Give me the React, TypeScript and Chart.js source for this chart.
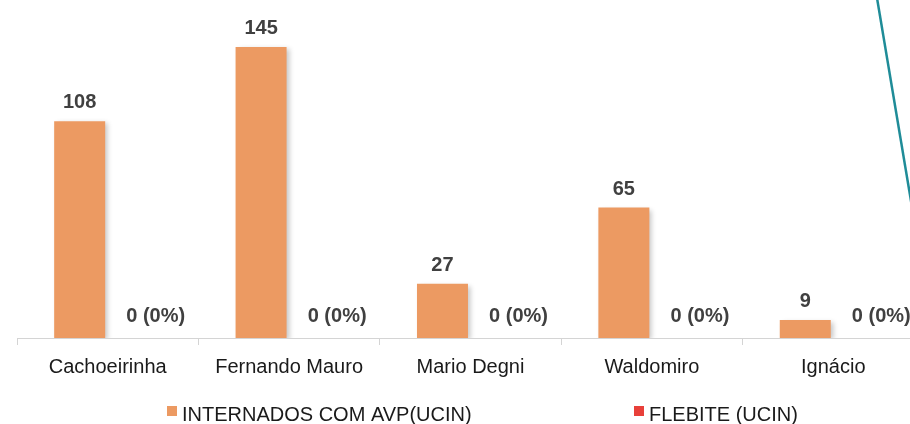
import React, { useEffect, useRef } from "react";
import { Chart, registerables } from "chart.js";

Chart.register(...registerables);

const categories = ["Cachoeirinha", "Fernando Mauro", "Mario Degni", "Waldomiro", "Ignácio"];
const internados = [108, 145, 27, 65, 9];
const flebite = [0, 0, 0, 0, 0];
const seriesNames = ["INTERNADOS COM AVP(UCIN)", "FLEBITE (UCIN)"];
const seriesColors = ["#EC9A62", "#E8403A"];

const FONT = "'Liberation Sans', Arial, sans-serif";

const shadowPlugin = {
  id: "barShadow",
  beforeDatasetsDraw(chart: any) {
    const ctx = chart.ctx;
    ctx.save();
    ctx.shadowColor = "rgba(0,0,0,0.22)";
    ctx.shadowBlur = 5;
    ctx.shadowOffsetX = 3;
    ctx.shadowOffsetY = 2;
  },
  afterDatasetsDraw(chart: any) {
    chart.ctx.restore();
  },
};

const labelsPlugin = {
  id: "valueLabels",
  afterDatasetsDraw(chart: any) {
    const ctx = chart.ctx;
    ctx.save();
    ctx.fillStyle = "#404040";
    ctx.textAlign = "center";
    ctx.textBaseline = "alphabetic";
    chart.data.datasets.forEach((ds: any, di: number) => {
      const meta = chart.getDatasetMeta(di);
      meta.data.forEach((bar: any, i: number) => {
        const v = ds.data[i];
        if (di === 0) {
          ctx.font = `bold 20px ${FONT}`;
          ctx.fillText(String(v), bar.x, bar.y - 13);
        } else {
          const base = internados[i];
          const pct = base ? Math.round((v / base) * 100) : 0;
          ctx.font = `bold 20px ${FONT}`;
          ctx.fillText(`${v} (${pct}%)`, bar.x + 20, bar.y - 16);
        }
      });
    });
    ctx.restore();
  },
};

const legendPlugin = {
  id: "customLegend",
  afterDraw(chart: any) {
    const ctx = chart.ctx;
    ctx.save();
    ctx.font = `20px ${FONT}`;
    ctx.textBaseline = "alphabetic";
    ctx.textAlign = "left";
    const xs = [167, 634];
    chart.data.datasets.forEach((ds: any, di: number) => {
      const x = xs[di];
      ctx.fillStyle = ds.backgroundColor;
      ctx.fillRect(x, 406, 10, 10);
      ctx.fillStyle = "#1a1a1a";
      ctx.fillText(ds.label, x + 15, 421);
    });
    ctx.restore();
  },
};

const decorPlugin = {
  id: "decor",
  afterDraw(chart: any) {
    const ctx = chart.ctx;
    ctx.save();
    ctx.strokeStyle = "#1F8C98";
    ctx.lineWidth = 2.5;
    ctx.beginPath();
    ctx.moveTo(877, -2);
    ctx.lineTo(877 + (33 / 197) * 260, 258);
    ctx.stroke();
    ctx.restore();
  },
};

export default function App() {
  const ref = useRef<HTMLCanvasElement>(null);
  useEffect(() => {
    document.body.style.margin = "0";
    const chart = new Chart(ref.current!, {
      type: "bar",
      data: {
        labels: categories,
        datasets: [
          { label: seriesNames[0], data: internados, backgroundColor: seriesColors[0] },
          { label: seriesNames[1], data: flebite, backgroundColor: seriesColors[1] },
        ],
      },
      options: {
        animation: false,
        responsive: false,
        maintainAspectRatio: false,
        datasets: { bar: { categoryPercentage: 0.618, barPercentage: 0.91 } },
        layout: { padding: { left: 17, right: 6, top: 17, bottom: 35 } },
        plugins: { legend: { display: false }, tooltip: { enabled: false } },
        scales: {
          y: { display: false, min: 0, max: 160 },
          x: {
            border: { display: true, color: "#d4d4d4", width: 1 },
            grid: { display: true, drawOnChartArea: false, drawTicks: true, tickLength: 7, color: "#d4d4d4" },
            ticks: { color: "#1a1a1a", font: { family: FONT, size: 20 }, padding: 10, maxRotation: 0, autoSkip: false },
          },
        },
      },
      plugins: [shadowPlugin, labelsPlugin, legendPlugin, decorPlugin],
    });
    return () => chart.destroy();
  }, []);
  return (
    <div style={{ position: "fixed", left: 0, top: 0, width: 910, height: 424, overflow: "hidden", background: "#fff" }}>
      <canvas ref={ref} width={930} height={424} style={{ display: "block", width: 930, height: 424 }} />
    </div>
  );
}
